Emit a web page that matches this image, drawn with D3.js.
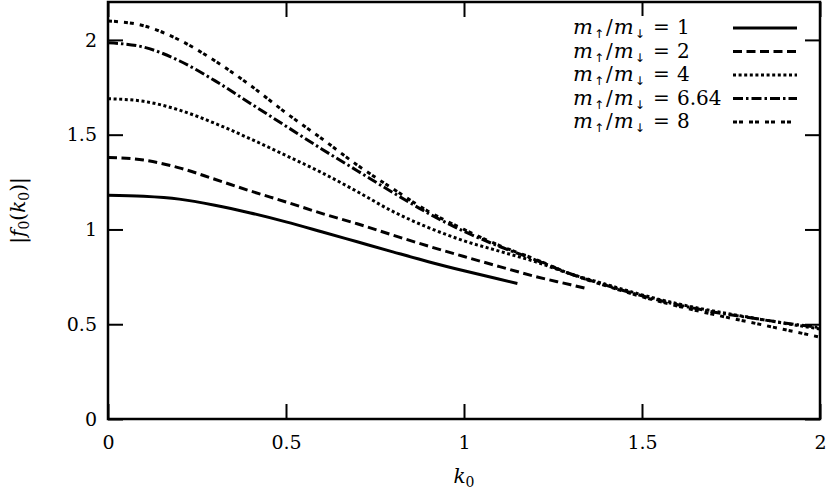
<!DOCTYPE html>
<html lang="en">

<head>
    <meta charset="UTF-8">
    <title>|f0(k0)| vs k0</title>
    <script src="https://d3js.org/d3.v7.min.js"></script>
    <style>
        body { margin: 0; background: #fff; }
    </style>
</head>

<body>
    <div id="chart"></div>
    <script>
        // values
        var kSolid = [0, 0.1, 0.2, 0.3, 0.4, 0.5, 0.6, 0.7, 0.8, 0.9, 1.0, 1.1, 1.15];
        var f_m1 = [1.18, 1.175, 1.16, 1.128, 1.087, 1.04, 0.988, 0.935, 0.882, 0.83, 0.782, 0.737, 0.715];

        var kDashed = [0, 0.1, 0.2, 0.3, 0.4, 0.5, 0.6, 0.7, 0.8, 0.9, 1.0, 1.1, 1.2, 1.3, 1.34];
        var f_m2 = [1.38, 1.366, 1.325, 1.265, 1.203, 1.145, 1.085, 1.03, 0.97, 0.912, 0.857, 0.804, 0.752, 0.708, 0.69];

        var kFull = [0, 0.1, 0.2, 0.3, 0.4, 0.5, 0.6, 0.7, 0.8, 0.9, 1.0, 1.1, 1.2, 1.3, 1.4, 1.5, 1.6, 1.7, 1.8, 1.9, 2.0];
        var f_m4 = [1.69, 1.676, 1.63, 1.56, 1.478, 1.39, 1.3, 1.2, 1.095, 1.01, 0.94, 0.885, 0.83, 0.765, 0.71, 0.655, 0.608, 0.57, 0.537, 0.505, 0.475];
        var f_m664 = [1.985, 1.962, 1.89, 1.785, 1.665, 1.545, 1.425, 1.31, 1.195, 1.085, 0.99, 0.91, 0.84, 0.765, 0.705, 0.65, 0.603, 0.565, 0.535, 0.507, 0.482];
        var f_m8 = [2.10, 2.075, 2.0, 1.89, 1.76, 1.615, 1.48, 1.34, 1.215, 1.095, 1.0, 0.915, 0.843, 0.765, 0.702, 0.645, 0.596, 0.552, 0.512, 0.472, 0.432];

        var ratios = ["1", "2", "4", "6.64", "8"];
        var xTicks = [0, 0.5, 1, 1.5, 2];
        var yTicks = [0, 0.5, 1, 1.5, 2];

        var series = [
            { ratio: ratios[0], k: kSolid, f: f_m1, dash: null },
            { ratio: ratios[1], k: kDashed, f: f_m2, dash: "9,4.5" },
            { ratio: ratios[2], k: kFull, f: f_m4, dash: "3,2.6" },
            { ratio: ratios[3], k: kFull, f: f_m664, dash: "10,3,2.5,3" },
            { ratio: ratios[4], k: kFull, f: f_m8, dash: "4,2,4,6" }
        ];

        var width = 830, height = 491;
        var margin = { top: 2, right: 10, bottom: 72, left: 108 };
        var w = width - margin.left - margin.right,
            h = height - margin.top - margin.bottom;
        var serif = "DejaVu Serif";

        var svg = d3.select("#chart").append("svg")
            .attr("width", width)
            .attr("height", height);

        var g = svg.append("g")
            .attr("transform", "translate(" + margin.left + "," + margin.top + ")");

        var x = d3.scaleLinear().domain([0, 2]).range([0, w]);
        var y = d3.scaleLinear().domain([0, 2.2]).range([h, 0]);

        svg.append("defs").append("clipPath").attr("id", "clip")
            .append("rect").attr("width", w).attr("height", h);

        // ticks on all four sides, pointing in
        var tickLen = 15;
        g.append("g").attr("transform", "translate(0," + h + ")")
            .call(d3.axisBottom(x).tickValues(xTicks).tickSizeInner(-tickLen).tickSizeOuter(0).tickPadding(17).tickFormat(d3.format("")))
            .call(styleAxis);
        g.append("g")
            .call(d3.axisTop(x).tickValues(xTicks).tickSizeInner(-tickLen).tickSizeOuter(0).tickFormat(""))
            .call(styleAxis);
        g.append("g")
            .call(d3.axisLeft(y).tickValues(yTicks).tickSizeInner(-tickLen).tickSizeOuter(0).tickPadding(11).tickFormat(d3.format("")))
            .call(styleAxis);
        g.append("g").attr("transform", "translate(" + w + ",0)")
            .call(d3.axisRight(y).tickValues(yTicks).tickSizeInner(-tickLen).tickSizeOuter(0).tickFormat(""))
            .call(styleAxis);

        function styleAxis(sel) {
            sel.attr("font-family", serif);
            sel.select(".domain").remove();
            sel.selectAll(".tick line").attr("stroke", "#000").attr("stroke-width", 2);
            sel.selectAll(".tick text").attr("font-size", 19).attr("fill", "#000")
                .style("font-family", serif);
        }

        var line = d3.line().curve(d3.curveMonotoneX);

        g.append("g").attr("clip-path", "url(#clip)")
            .selectAll("path")
            .data(series)
            .enter().append("path")
            .attr("d", function (s) {
                return line(s.k.map(function (k, i) { return [x(k), y(s.f[i])]; }));
            })
            .attr("fill", "none")
            .attr("stroke", "#000")
            .attr("stroke-width", 3)
            .attr("stroke-dasharray", function (s) { return s.dash; });

        // frame
        g.append("rect")
            .attr("width", w).attr("height", h)
            .attr("fill", "none").attr("stroke", "#000").attr("stroke-width", 2.5);

        // legend
        var legend = svg.append("g").attr("transform", "translate(0,28)");
        var rows = legend.selectAll("g").data(series).enter().append("g")
            .attr("transform", function (d, i) { return "translate(0," + (i * 23.5) + ")"; });
        rows.append("rect").attr("x", 568).attr("y", -12).attr("width", 236).attr("height", 24).attr("fill", "#fff");
        var lt = rows.append("text").attr("font-size", 20).attr("y", 6).style("font-family", serif).attr("fill", "#000");
        lt.append("tspan").attr("x", 573).attr("font-style", "italic").attr("font-size", 21).text("m");
        lt.append("tspan").attr("font-size", 12).attr("dx", 1).attr("dy", 4).style("font-family", "DejaVu Sans").text("\u2191");
        lt.append("tspan").attr("dy", -4).attr("dx", 2).text("/");
        lt.append("tspan").attr("font-style", "italic").attr("font-size", 21).attr("dx", 1).text("m");
        lt.append("tspan").attr("font-size", 12).attr("dx", 1).attr("dy", 4).style("font-family", "DejaVu Sans").text("\u2193");
        lt.append("tspan").attr("x", 653).attr("dy", -4).text("=");
        lt.append("tspan").attr("x", 677).text(function (d) { return d.ratio; });
        rows.append("line")
            .attr("x1", 733).attr("x2", 797).attr("y1", 0).attr("y2", 0)
            .attr("stroke", "#000").attr("stroke-width", 3)
            .attr("stroke-dasharray", function (d) { return d.dash; });

        // axis titles
        var xt = svg.append("text")
            .attr("x", margin.left + x(1)).attr("y", 483)
            .attr("text-anchor", "middle").attr("font-size", 20).style("font-family", serif);
        xt.append("tspan").attr("font-style", "italic").text("k");
        xt.append("tspan").attr("font-size", 14).attr("dy", 4).text("0");

        var yt = svg.append("text")
            .attr("transform", "translate(25," + (margin.top + h / 2) + ") rotate(-90)")
            .attr("text-anchor", "middle").attr("font-size", 20).style("font-family", serif);
        yt.append("tspan").text("|");
        yt.append("tspan").attr("font-style", "italic").text("f");
        yt.append("tspan").attr("font-size", 14).attr("dy", 4).text("0");
        yt.append("tspan").attr("dy", -4).text("(");
        yt.append("tspan").attr("font-style", "italic").text("k");
        yt.append("tspan").attr("font-size", 14).attr("dy", 4).text("0");
        yt.append("tspan").attr("dy", -4).text(")|");
    </script>
</body>

</html>
